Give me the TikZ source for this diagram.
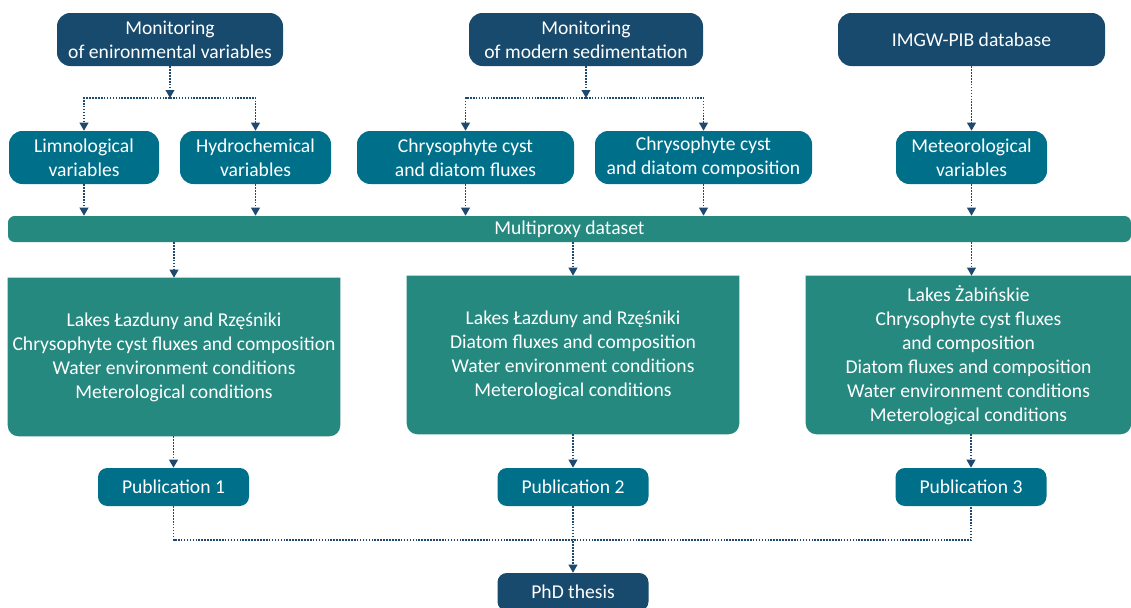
\documentclass[tikz,border=0pt]{standalone}
\usepackage{fontspec}
\setmainfont{Carlito}
\usetikzlibrary{positioning, arrows.meta, backgrounds, calc}

\definecolor{navybox}{RGB}{23,74,108}
\definecolor{tealbox}{RGB}{0,112,138}
\definecolor{greenbox}{RGB}{37,137,128}
\definecolor{linkcol}{RGB}{31,73,110}

\tikzset{
  source/.style={fill=navybox, text=white, rounded corners=10pt, align=center,
    minimum height=53*0.75pt, inner sep=2pt},
  varbox/.style={fill=tealbox, text=white, rounded corners=10pt, align=center,
    minimum height=53*0.75pt, inner sep=2pt},
  pubbox/.style={fill=tealbox, text=white, rounded corners=7pt, align=center,
    minimum height=38*0.75pt, minimum width=151*0.75pt, inner sep=2pt},
  lakebox/.style={align=center, text=white, minimum height=158*0.75pt, inner sep=2pt},
  flow/.style={densely dotted, line width=1.2pt, draw=linkcol,
    -{Triangle[length=6pt,width=6.5pt]}},
  link/.style={densely dotted, line width=1.2pt, draw=linkcol}
}

\begin{document}
\begin{tikzpicture}[x=0.75pt, y=-0.75pt, >=Stealth, font=\fontsize{14.7}{18}\selectfont]
  \useasboundingbox (0,0) rectangle (1131,607);

  % sources
  \node[source, minimum width=226*0.75pt] (envmon) at (170,39.5) {Monitoring\\of enironmental variables};
  \node[source, minimum width=234*0.75pt] (sedmon) at (586,39.5) {Monitoring\\of modern sedimentation};
  \node[source, minimum width=267*0.75pt] (imgw) at (971.5,39.5) {IMGW-PIB database};

  % variables
  \node[varbox, minimum width=150*0.75pt] (limno) at (84,157.5) {Limnological\\variables};
  \node[varbox, minimum width=151*0.75pt] (hydro) at (255.5,157.5) {Hydrochemical\\variables};
  \node[varbox, minimum width=217*0.75pt] (fluxes) at (465.5,157.5) {Chrysophyte cyst\\and diatom fluxes};
  \node[varbox, minimum width=217*0.75pt] (compos) at (703.5,157.5) {Chrysophyte cyst\\and diatom composition};
  \node[varbox, minimum width=151*0.75pt] (meteo) at (971.5,157.5) {Meteorological\\variables};

  % dataset bar
  \node[fill=greenbox, text=white, rounded corners=5pt, minimum width=1123*0.75pt,
    minimum height=26*0.75pt, inner sep=0pt] (dataset) at (569.5,229) {Multiproxy dataset};

  % lake boxes
  \node[lakebox, minimum width=332*0.75pt] (lake1) at (174,357) {Lakes Łazduny and Rzęśniki\\Chrysophyte cyst fluxes and composition\\Water environment conditions\\Meterological conditions};
  \node[lakebox, minimum width=332*0.75pt] (lake2) at (573,355) {Lakes Łazduny and Rzęśniki\\Diatom fluxes and composition\\Water environment conditions\\Meterological conditions};
  \node[lakebox, minimum width=325*0.75pt] (lake3) at (968.5,355) {Lakes Żabińskie\\Chrysophyte cyst fluxes\\and composition\\Diatom fluxes and composition\\Water environment conditions\\Meterological conditions};
  \begin{scope}[on background layer]
    \foreach \lk in {lake1,lake2,lake3}{
      \fill[greenbox] (\lk.north west) -- (\lk.north east) [rounded corners=8pt]
        -- (\lk.south east) -- (\lk.south west) [sharp corners] -- cycle;
    }
  \end{scope}

  % publications
  \node[pubbox] (pub1) at (173.5,487) {Publication 1};
  \node[pubbox] (pub2) at (573,487) {Publication 2};
  \node[pubbox] (pub3) at (971,487) {Publication 3};
  \node[pubbox, fill=navybox] (phd) at (573,592) {PhD thesis};

  % junctions
  \coordinate (envjoin) at (170,98);
  \coordinate (sedjoin) at (586,98);
  \coordinate (phdjoin) at (573,540);

  \draw[flow] (envmon) -- (envjoin);
  \draw[flow] (envjoin) -| (limno);
  \draw[flow] (envjoin) -| (hydro);
  \draw[flow] (sedmon) -- (sedjoin);
  \draw[flow] (sedjoin) -| (fluxes);
  \draw[flow] (sedjoin) -| (compos);
  \draw[flow] (imgw) -- (meteo);

  \foreach \v in {limno,hydro,fluxes,compos,meteo}
    \draw[flow] (\v) -- (\v |- dataset.north);

  \draw[flow] (dataset.south -| lake1) -- (lake1);
  \draw[flow] (dataset.south -| lake2) -- (lake2);
  \draw[flow] (dataset.south -| meteo) -- (meteo |- lake3.north);

  \draw[flow] (lake1.south -| pub1) -- (pub1);
  \draw[flow] (lake2) -- (pub2);
  \draw[flow] (lake3.south -| pub3) -- (pub3);

  \draw[link] (pub1) |- (phdjoin) -| (pub3);
  \draw[flow] (pub2) -- (phd);
\end{tikzpicture}
\end{document}
